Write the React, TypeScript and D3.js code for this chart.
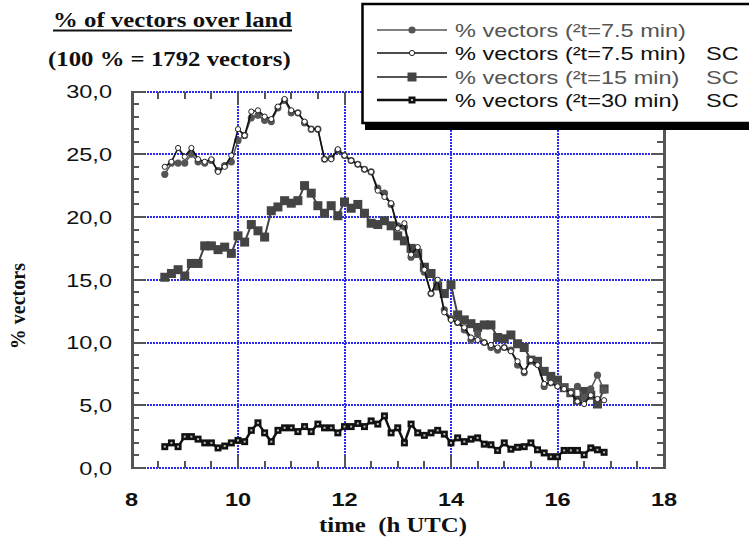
import React from "react";
import * as d3 from "d3";

// time of each sample (h UTC), one every 7.5 min
const times = [
  8.625, 8.75, 8.875, 9, 9.125, 9.25, 9.375, 9.5, 9.625, 9.75, 9.875, 10,
  10.125, 10.25, 10.375, 10.5, 10.625, 10.75, 10.875, 11, 11.125, 11.25, 11.375, 11.5,
  11.625, 11.75, 11.875, 12, 12.125, 12.25, 12.375, 12.5, 12.625, 12.75, 12.875, 13,
  13.125, 13.25, 13.375, 13.5, 13.625, 13.75, 13.875, 14, 14.125, 14.25, 14.375, 14.5,
  14.625, 14.75, 14.875, 15, 15.125, 15.25, 15.375, 15.5, 15.625, 15.75, 15.875, 16,
  16.125, 16.25, 16.375, 16.5, 16.625, 16.75, 16.875,
];

// % vectors (²t=7.5 min)
const pct75 = [
  23.4, 24.3, 24.3, 24.3, 25.0, 24.4, 24.3, 24.5, 23.7, 24.1, 24.4, 26.1,
  26.5, 27.9, 28.1, 27.7, 27.6, 28.7, 29.3, 28.3, 28.3, 27.5, 27.0, 27.0,
  24.6, 24.7, 25.3, 24.9, 24.5, 24.2, 23.8, 23.6, 22.3, 21.9, 21.0, 19.3,
  19.2, 16.8, 17.3, 15.6, 13.9, 14.9, 12.6, 11.9, 11.6, 11.0, 10.2, 10.7,
  10.0, 9.6, 9.4, 9.6, 9.4, 8.2, 7.6, 8.6, 8.3, 6.5, 6.8, 6.6,
  6.4, 6.0, 6.5, 5.6, 6.3, 7.4, 6.2,
];

// % vectors (²t=7.5 min) SC
const pct75sc = [
  24.0, 24.4, 25.5, 24.8, 25.5, 24.6, 24.4, 24.6, 23.6, 24.0, 24.9, 27.0,
  26.5, 28.4, 28.5, 28.0, 27.8, 28.8, 29.4, 28.5, 28.3, 27.6, 27.0, 27.0,
  24.6, 24.6, 25.4, 24.9, 24.5, 24.2, 23.8, 23.6, 22.1, 21.6, 21.1, 19.1,
  19.5, 17.0, 17.6, 15.8, 13.9, 15.0, 12.4, 11.8, 11.6, 11.2, 10.4, 10.2,
  10.0, 9.8, 9.6, 9.6, 9.3, 8.5, 7.7, 8.6, 8.2, 6.7, 6.8, 6.5,
  6.3, 6.0, 5.3, 5.1, 5.8, 5.5, 5.4,
];

// % vectors (²t=15 min) SC
const pct15sc = [
  15.2, 15.5, 15.8, 15.3, 16.3, 16.3, 17.7, 17.7, 17.4, 17.6, 17.1, 18.5,
  18.0, 19.4, 18.9, 18.4, 20.5, 20.8, 21.3, 21.1, 21.3, 22.5, 21.9, 20.9,
  20.3, 20.9, 20.1, 21.2, 20.7, 21.0, 20.3, 19.5, 19.4, 19.7, 19.3, 18.5,
  18.1, 17.5, 17.1, 16.0, 15.5, 14.5, 13.9, 14.6, 12.2, 11.8, 11.5, 11.2,
  11.4, 11.4, 10.4, 10.3, 10.6, 9.9, 9.6, 8.6, 8.5, 7.7, 7.3, 7.0,
  6.4, 6.0, 5.4, 6.1, 5.8, 5.1, 6.3,
];

// % vectors (²t=30 min) SC
const pct30sc = [
  1.7, 2.0, 1.7, 2.5, 2.5, 2.3, 2.0, 2.0, 1.6, 1.75, 2.0, 2.2,
  2.1, 3.0, 3.6, 2.8, 2.1, 3.0, 3.2, 3.2, 2.9, 3.3, 2.9, 3.5,
  3.2, 3.2, 2.8, 3.3, 3.3, 3.55, 3.3, 3.75, 3.5, 4.15, 2.8, 3.2,
  2.0, 3.5, 2.8, 2.6, 2.8, 3.0, 2.7, 2.0, 2.4, 2.1, 2.3, 2.4,
  1.9, 1.85, 1.4, 2.0, 1.5, 1.65, 1.7, 2.0, 1.45, 1.2, 0.9, 0.9,
  1.4, 1.4, 1.4, 1.05, 1.6, 1.45, 1.25,
];

const xTicks = [8, 10, 12, 14, 16, 18];
const yTicks = [0, 5, 10, 15, 20, 25, 30];
const legendLabels = [
  "% vectors (²t=7.5 min)",
  "% vectors (²t=7.5 min)",
  "% vectors (²t=15 min)",
  "% vectors (²t=30 min)",
];
const legendSuffix = ["", "SC", "SC", "SC"];

const W = 749;
const H = 541;
const SX = 1.24; // the original figure is stretched horizontally
const BLUE = "#2a2af0";
const AXIS = "#555";

const fmt = d3.formatLocale({ decimal: ",", thousands: ".", grouping: [3], currency: ["", ""] }).format(".1f");

function SText({ x, y, children, ...rest }: any) {
  return (
    <g transform={`translate(${x},${y}) scale(${SX},1)`}>
      <text {...rest} style={{ whiteSpace: "pre" }}>{children}</text>
    </g>
  );
}

export default function App() {
  const x = d3.scaleLinear().domain([8, 18]).range([131.5, 664]);
  const y = d3.scaleLinear().domain([0, 30]).range([468, 91.5]);
  const rx = (t: number) => Math.round(x(t));
  const ry = (t: number) => Math.round(y(t));

  const line = (vals: number[]) =>
    d3.line<number>().x((_, i) => x(times[i])).y((v) => y(v))(vals) || "";

  const minorX = d3.range(8, 18.01, 0.5);
  const minorY = d3.range(0, 31, 1);

  const legendRowY = [30, 53, 77, 100];

  const markerA = (cx: number, cy: number, k: any) => <circle key={k} cx={cx} cy={cy} r={3.6} fill="#555" />;
  const markerB = (cx: number, cy: number, k: any) => (
    <circle key={k} cx={cx} cy={cy} r={2.6} fill="#fff" stroke="#222" strokeWidth={1} />
  );
  const markerC = (cx: number, cy: number, k: any) => (
    <rect key={k} x={cx - 4.5} y={cy - 4.5} width={9} height={9} fill="#444" />
  );
  const markerD = (cx: number, cy: number, k: any) => (
    <g key={k}>
      <rect x={cx - 3.5} y={cy - 3.5} width={7} height={7} fill="#111" />
      <rect x={cx - 1} y={cy - 1} width={2} height={2} fill="#bbb" />
    </g>
  );

  const series = [
    { vals: pct15sc, stroke: "#444", sw: 2, marker: markerC },
    { vals: pct75, stroke: "#555", sw: 1.5, marker: markerA },
    { vals: pct75sc, stroke: "#111", sw: 1.6, marker: markerB },
    { vals: pct30sc, stroke: "#111", sw: 2.5, marker: markerD },
  ];

  const legendStyle = [
    { stroke: "#555", sw: 1.5, marker: markerA, color: "#555" },
    { stroke: "#111", sw: 1.6, marker: markerB, color: "#111" },
    { stroke: "#555", sw: 2, marker: markerC, color: "#555" },
    { stroke: "#111", sw: 2.5, marker: markerD, color: "#111" },
  ];

  return (
    <svg width={W} height={H} style={{ position: "absolute", left: 0, top: 0, background: "#fff" }}>
      {/* grid */}
      <g shapeRendering="crispEdges">
        {xTicks.map((t) => (
          <line key={"gx" + t} x1={rx(t)} x2={rx(t)} y1={ry(0)} y2={ry(30)} stroke={BLUE} strokeWidth={2} strokeDasharray="2 1" />
        ))}
        {yTicks.map((t) => (
          <line key={"gy" + t} x1={rx(8)} x2={rx(18)} y1={ry(t)} y2={ry(t)} stroke={BLUE} strokeWidth={2} strokeDasharray="2 1" />
        ))}
      </g>

      {/* ticks */}
      <g shapeRendering="crispEdges">
        {minorX.map((t) => {
          const major = t % 2 === 0;
          const len = major ? 13 : 7;
          return (
            <g key={"tx" + t}>
              <line x1={rx(t)} x2={rx(t)} y1={ry(0)} y2={ry(0) - len} stroke={AXIS} strokeWidth={2} />
              <line x1={rx(t)} x2={rx(t)} y1={ry(30)} y2={ry(30) + len} stroke={AXIS} strokeWidth={2} />
            </g>
          );
        })}
        {minorY.map((t) => {
          const major = t % 5 === 0;
          const len = major ? 13 : 7;
          return (
            <g key={"ty" + t}>
              <line x1={rx(8)} x2={rx(8) + len} y1={ry(t)} y2={ry(t)} stroke={AXIS} strokeWidth={2} />
              <line x1={rx(18)} x2={rx(18) - len} y1={ry(t)} y2={ry(t)} stroke={AXIS} strokeWidth={2} />
            </g>
          );
        })}
        <line x1={rx(8)} x2={rx(8)} y1={ry(0) + 1} y2={ry(30) - 1} stroke={AXIS} strokeWidth={3} />
        <line x1={rx(18)} x2={rx(18)} y1={ry(0) + 1} y2={ry(30) - 1} stroke={AXIS} strokeWidth={3} />
      </g>

      {/* series */}
      {series.map((s, si) => (
        <g key={"s" + si}>
          <path d={line(s.vals)} fill="none" stroke={s.stroke} strokeWidth={s.sw} strokeLinejoin="round" />
          {s.vals.map((v, i) => s.marker(x(times[i]), y(v), i))}
        </g>
      ))}

      {/* tick labels */}
      {yTicks.map((t) => (
        <SText key={"ly" + t} x={112} y={y(t)} dy="0.36em" textAnchor="end" fontFamily="Arial, Liberation Sans" fontSize={19} fill="#111">
          {fmt(t)}
        </SText>
      ))}
      {xTicks.map((t) => (
        <SText key={"lx" + t} x={x(t)} y={506} textAnchor="middle" fontFamily="Arial, Liberation Sans" fontWeight="bold" fontSize={19} fill="#111">
          {String(t)}
        </SText>
      ))}

      {/* titles */}
      <SText x={53} y={27} fontFamily="Times New Roman, Liberation Serif" fontWeight="bold" fontSize={20} fill="#111">
        % of vectors over land
      </SText>
      <line x1={53} x2={292} y1={30.5} y2={30.5} stroke="#111" strokeWidth={1.8} />
      <SText x={48} y={66} fontFamily="Times New Roman, Liberation Serif" fontWeight="bold" fontSize={20} fill="#111">
        (100 % = 1792 vectors)
      </SText>
      <SText x={393} y={532} textAnchor="middle" fontFamily="Times New Roman, Liberation Serif" fontWeight="bold" fontSize={20} fill="#111">
        {"time  (h UTC)"}
      </SText>
      <text
        transform={`translate(25,${y(12.9)}) rotate(-90)`}
        textAnchor="middle"
        fontFamily="Times New Roman, Liberation Serif"
        fontWeight="bold"
        fontSize={20}
        fill="#111"
      >
        % vectors
      </text>

      {/* legend */}
      <rect x={365} y={10} width={400} height={120} fill="#000" />
      <rect x={362.5} y={4} width={400} height={119} fill="#fff" stroke="#000" strokeWidth={2.5} />
      {legendLabels.map((lab, i) => {
        const st = legendStyle[i];
        const ly = legendRowY[i];
        return (
          <g key={"lg" + i}>
            <line x1={377} x2={447} y1={ly} y2={ly} stroke={st.stroke} strokeWidth={st.sw} />
            {st.marker(412, ly, "m")}
            <SText x={455} y={ly} dy="0.36em" fontFamily="Arial, Liberation Sans" fontSize={19} fill={st.color}>
              {lab}
            </SText>
            {legendSuffix[i] && (
              <SText x={706} y={ly} dy="0.36em" fontFamily="Arial, Liberation Sans" fontSize={19} fill={st.color}>
                {legendSuffix[i]}
              </SText>
            )}
          </g>
        );
      })}
    </svg>
  );
}
